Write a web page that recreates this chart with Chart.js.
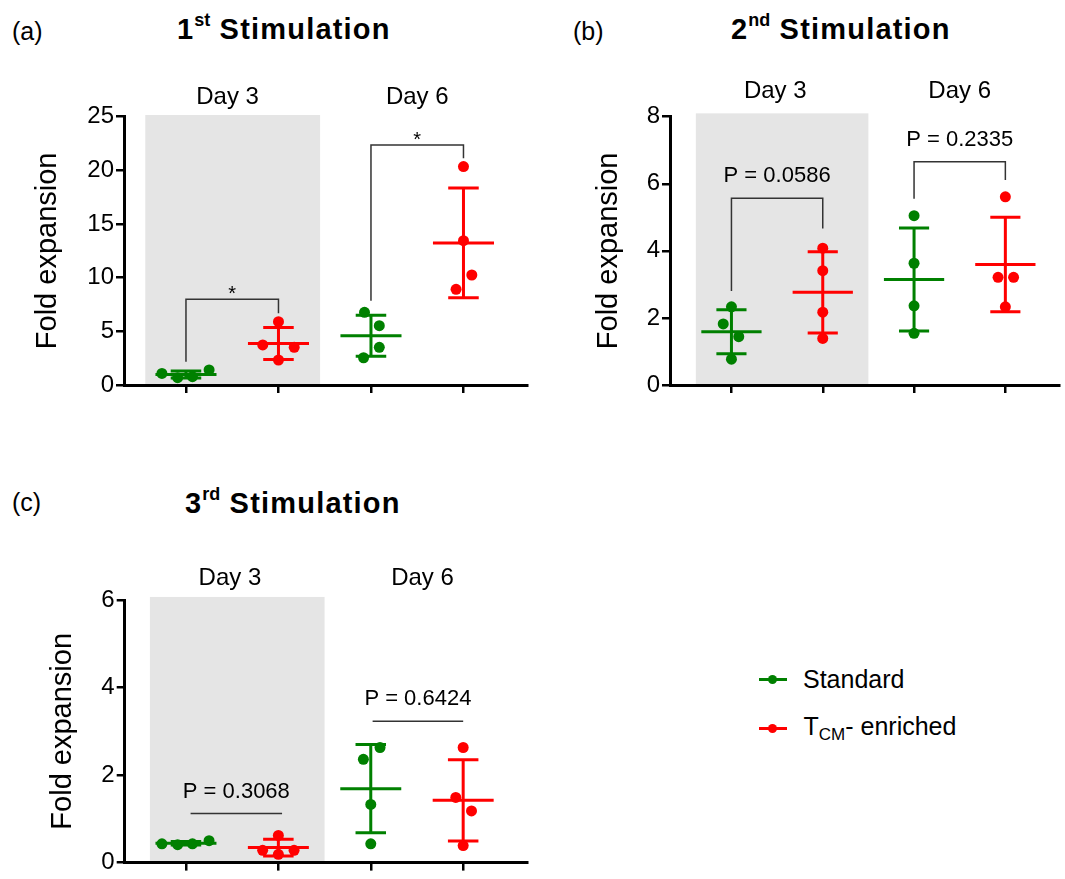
<!DOCTYPE html>
<html>
<head>
<meta charset="utf-8">
<title>Fold expansion</title>
<script src="https://cdn.jsdelivr.net/npm/chart.js@4.4.1/dist/chart.umd.min.js"></script>
<style>
  html, body { margin: 0; padding: 0; background: #fff; overflow: hidden; }
  body { width: 1065px; height: 879px; position: relative; font-family: Arial, "Liberation Sans", sans-serif; color: #000; }
  canvas { position: absolute; }
  .txt { position: absolute; white-space: nowrap; line-height: 1; }
  .letter { font-size: 25px; }
  .title { font-size: 29px; font-weight: bold; letter-spacing: 1.2px; }
  .title span { font-size: 18px; position: relative; top: -13px; letter-spacing: 0; }
  .leg { font-size: 25px; }
  .leg sub { font-size: 17px; vertical-align: baseline; position: relative; top: 5px; }
  .legline { position: absolute; width: 28px; height: 3px; }
  .legdot { position: absolute; width: 9px; height: 9px; border-radius: 50%; }
</style>
</head>
<body>

<div class="txt letter" style="left:12px; top:19px;">(a)</div>
<div class="txt title" style="left:177px; top:14.8px;">1<span>st</span> Stimulation</div>
<canvas id="stim1" width="535" height="420" style="left:0; top:0;"></canvas>

<div class="txt letter" style="left:573px; top:19px;">(b)</div>
<div class="txt title" style="left:731px; top:14.8px;">2<span>nd</span> Stimulation</div>
<canvas id="stim2" width="519" height="420" style="left:546px; top:0;"></canvas>

<div class="txt letter" style="left:12px; top:490px;">(c)</div>
<div class="txt title" style="left:185px; top:488.8px;">3<span>rd</span> Stimulation</div>
<canvas id="stim3" width="535" height="409" style="left:0; top:470px;"></canvas>

<!-- legend -->
<div class="legline" style="left:759px; top:677.8px; background:#008000;"></div>
<div class="legdot" style="left:768.2px; top:674.8px; background:#008000;"></div>
<div class="txt leg" style="left:803px; top:667.1px;">Standard</div>
<div class="legline" style="left:759px; top:726.8px; background:#ff0000;"></div>
<div class="legdot" style="left:768.2px; top:723.8px; background:#ff0000;"></div>
<div class="txt leg" style="left:803.5px; top:713.8px;">T<sub>CM</sub>- enriched</div>

<script>
const groups = ['Standard', 'TCM- enriched'];
const days = ['Day 3', 'Day 6'];

// 1st stimulation, one inner list per day (Day 3, Day 6)
const stim1Standard = [[1.08, 0.68, 0.78, 1.40], [6.77, 5.53, 3.51, 2.54]];
const stim1Tcm = [[5.90, 3.73, 3.51, 2.33], [20.35, 13.45, 10.25, 8.92]];
const stim1Ticks = [0, 5, 10, 15, 20, 25];
const stim1Stats = ['*', '*'];

// 2nd stimulation
const stim2Standard = [[2.33, 1.82, 1.44, 0.77], [5.05, 3.63, 2.36, 1.54]];
const stim2Tcm = [[4.08, 3.41, 2.17, 1.39], [5.61, 3.21, 3.21, 2.33]];
const stim2Ticks = [0, 2, 4, 6, 8];
const stim2Stats = ['P = 0.0586', 'P = 0.2335'];

// 3rd stimulation
const stim3Standard = [[0.43, 0.41, 0.43, 0.50], [2.36, 2.63, 1.33, 0.43]];
const stim3Tcm = [[0.62, 0.28, 0.28, 0.19], [2.63, 1.49, 1.18, 0.39]];
const stim3Ticks = [0, 2, 4, 6];
const stim3Stats = ['P = 0.3068', 'P = 0.6424'];

// horizontal scatter of the dots inside each column (in category units)
const stim1StdJitter = [[-0.26, -0.09, 0.07, 0.25], [-0.07, 0.09, 0.09, -0.08]];
const stim1TcmJitter = [[0, -0.17, 0.17, 0], [0, 0, 0.09, -0.08]];
const stim2StdJitter = [[0, -0.09, 0.08, 0], [0, 0, 0, 0]];
const stim2TcmJitter = [[0, 0, 0, 0], [0, -0.08, 0.09, 0]];
const stim3StdJitter = [[-0.26, -0.09, 0.07, 0.25], [-0.08, 0.10, 0, 0]];
const stim3TcmJitter = [[0, -0.17, 0.17, 0], [0, -0.08, 0.09, 0]];

const GREEN = '#008000';
const RED = '#ff0000';
const FONT = 'Arial, "Liberation Sans", sans-serif';
Chart.defaults.font.family = FONT;
Chart.defaults.color = '#000';

// column index: Standard Day3 = 0, TCM Day3 = 1, Standard Day6 = 2, TCM Day6 = 3
function toPoints(byDay, jitter, g) {
  const pts = [];
  byDay.forEach((vals, d) => {
    vals.forEach((v, i) => pts.push({ x: d * 2 + g + jitter[d][i], y: v }));
  });
  return pts;
}

function meanSd(vals) {
  const m = vals.reduce((a, b) => a + b, 0) / vals.length;
  const ss = vals.reduce((a, b) => a + (b - m) * (b - m), 0);
  return [m, Math.sqrt(ss / (vals.length - 1))];
}

// gray Day 3 band, mean ± SD bars, comparison brackets and day labels
const decor = {
  id: 'decor',
  beforeDraw(chart) {
    const p = chart.options.plugins.decor;
    const { ctx, chartArea, scales: { x, y } } = chart;
    const x0 = x.getPixelForValue(p.band[0]);
    const x1 = x.getPixelForValue(p.band[1]);
    const top = y.getPixelForValue(p.bandTop);
    ctx.save();
    ctx.fillStyle = '#e5e5e5';
    ctx.fillRect(x0, top, x1 - x0, chartArea.bottom - top);
    ctx.restore();
  },
  beforeDatasetsDraw(chart) {
    const { ctx, scales: { x, y } } = chart;
    ctx.save();
    ctx.lineWidth = 3;
    ctx.lineCap = 'butt';
    chart.data.datasets.forEach(ds => {
      const cols = {};
      ds.data.forEach(pt => {
        const c = Math.round(pt.x);
        (cols[c] = cols[c] || []).push(pt.y);
      });
      ctx.strokeStyle = ds.borderColor;
      Object.keys(cols).forEach(c => {
        const [m, sd] = meanSd(cols[c]);
        const cx = x.getPixelForValue(+c);
        const half = x.getPixelForValue(+c + 0.33) - cx;
        const cap = x.getPixelForValue(+c + 0.165) - cx;
        const ym = y.getPixelForValue(m);
        const yHi = y.getPixelForValue(m + sd);
        const yLo = y.getPixelForValue(m - sd);
        ctx.beginPath();
        ctx.moveTo(cx - half, ym); ctx.lineTo(cx + half, ym);
        ctx.moveTo(cx, yHi); ctx.lineTo(cx, yLo);
        ctx.moveTo(cx - cap, yHi); ctx.lineTo(cx + cap, yHi);
        ctx.moveTo(cx - cap, yLo); ctx.lineTo(cx + cap, yLo);
        ctx.stroke();
      });
    });
    ctx.restore();
  },
  afterDraw(chart) {
    const p = chart.options.plugins.decor;
    const { ctx, scales: { x, y } } = chart;
    ctx.save();
    ctx.strokeStyle = '#333';
    ctx.lineWidth = 1.5;
    ctx.fillStyle = '#000';
    ctx.textAlign = 'center';
    ctx.textBaseline = 'alphabetic';
    p.brackets.forEach((b, i) => {
      const xa = x.getPixelForValue(b.x[0]);
      const xb = x.getPixelForValue(b.x[1]);
      const yt = y.getPixelForValue(b.top);
      ctx.beginPath();
      ctx.moveTo(xa, y.getPixelForValue(b.legs[0]));
      ctx.lineTo(xa, yt);
      ctx.lineTo(xb, yt);
      ctx.lineTo(xb, y.getPixelForValue(b.legs[1]));
      ctx.stroke();
      const label = p.stats[i];
      if (label === '*') {
        ctx.font = '20px ' + FONT;
        ctx.fillText(label, (xa + xb) / 2, yt + 1);
      } else {
        ctx.font = '22px ' + FONT;
        ctx.fillText(label, (xa + xb) / 2, yt - 16);
      }
    });
    ctx.font = '24px ' + FONT;
    days.forEach((d, i) => {
      ctx.fillText(d, x.getPixelForValue(p.dayX[i]), p.dayBaseline);
    });
    ctx.restore();
  }
};

function makePanel(id, box, area, xRange, ticks, yMax, standard, tcm, stdJitter, tcmJitter, decorOpts, titleCenter) {
  const yWidth = area.left - box.left;
  const xHeight = 10;
  const titleSize = 29;
  new Chart(document.getElementById(id), {
    type: 'scatter',
    data: {
      datasets: [
        { label: groups[0], data: toPoints(standard, stdJitter, 0), backgroundColor: GREEN, borderColor: GREEN,
          pointRadius: 5.5, pointHoverRadius: 5.5, pointBorderWidth: 0, clip: false },
        { label: groups[1], data: toPoints(tcm, tcmJitter, 1), backgroundColor: RED, borderColor: RED,
          pointRadius: 5.5, pointHoverRadius: 5.5, pointBorderWidth: 0, clip: false }
      ]
    },
    options: {
      responsive: false,
      animation: false,
      events: [],
      layout: {
        padding: {
          left: 0,
          top: area.top - box.top,
          right: box.left + box.width - area.right,
          bottom: box.top + box.height - area.bottom - xHeight
        }
      },
      plugins: {
        legend: { display: false },
        tooltip: { enabled: false },
        decor: decorOpts
      },
      scales: {
        x: {
          type: 'linear',
          min: xRange[0],
          max: xRange[1],
          afterBuildTicks: s => { s.ticks = [0, 1, 2, 3].map(v => ({ value: v })); },
          afterFit: s => { s.height = xHeight; },
          ticks: { display: false },
          grid: { drawOnChartArea: false, drawTicks: true, tickLength: 8, color: '#000', lineWidth: 2.5 },
          border: { display: true, color: '#000', width: 3 }
        },
        y: {
          min: 0,
          max: yMax,
          afterBuildTicks: s => { s.ticks = ticks.map(v => ({ value: v })); },
          afterFit: s => { s.width = yWidth; },
          ticks: { font: { size: 24 }, color: '#000', padding: 2 },
          grid: { drawOnChartArea: false, drawTicks: true, tickLength: 8, color: '#000', lineWidth: 2.5 },
          border: { display: true, color: '#000', width: 3 },
          title: {
            display: true,
            text: 'Fold expansion',
            color: '#000',
            font: { size: titleSize },
            padding: { top: titleCenter - box.left - titleSize * 0.6, bottom: 0 }
          }
        }
      }
    },
    plugins: [decor]
  });
}

makePanel('stim1',
  { left: 0, top: 0, width: 535, height: 420 },
  { left: 124, right: 527.3, top: 116.7, bottom: 385 },
  [-0.67, 3.69], stim1Ticks, 25, stim1Standard, stim1Tcm, stim1StdJitter, stim1TcmJitter,
  {
    band: [-0.44, 1.45], bandTop: 25.16, dayX: [0.45, 2.5], dayBaseline: 104, stats: stim1Stats,
    brackets: [
      { x: [0, 1], top: 8.0, legs: [2.17, 6.68] },
      { x: [2, 3], top: 22.37, legs: [7.86, 21.13] }
    ]
  }, 48);

makePanel('stim2',
  { left: 546, top: 0, width: 519, height: 420 },
  { left: 670, right: 1065, top: 116.7, bottom: 385 },
  [-0.673, 3.593], stim2Ticks, 8, stim2Standard, stim2Tcm, stim2StdJitter, stim2TcmJitter,
  {
    band: [-0.39, 1.5], bandTop: 8.1, dayX: [0.48, 2.5], dayBaseline: 98.3, stats: stim2Stats,
    brackets: [
      { x: [0, 1], top: 5.57, legs: [2.8, 4.67] },
      { x: [2, 3], top: 6.66, legs: [5.55, 6.11] }
    ]
  }, 609);

makePanel('stim3',
  { left: 0, top: 470, width: 535, height: 409 },
  { left: 124.7, right: 527.3, top: 600, bottom: 868.3 },
  [-0.663, 3.694], stim3Ticks, 6, stim3Standard, stim3Tcm, stim3StdJitter, stim3TcmJitter,
  {
    band: [-0.39, 1.5], bandTop: 6.07, dayX: [0.476, 2.56], dayBaseline: 115, stats: stim3Stats,
    brackets: [
      { x: [0.05, 1.04], top: 1.12, legs: [1.12, 1.12] },
      { x: [2.02, 3.0], top: 3.23, legs: [3.23, 3.23] }
    ]
  }, 62.8);
</script>
</body>
</html>
